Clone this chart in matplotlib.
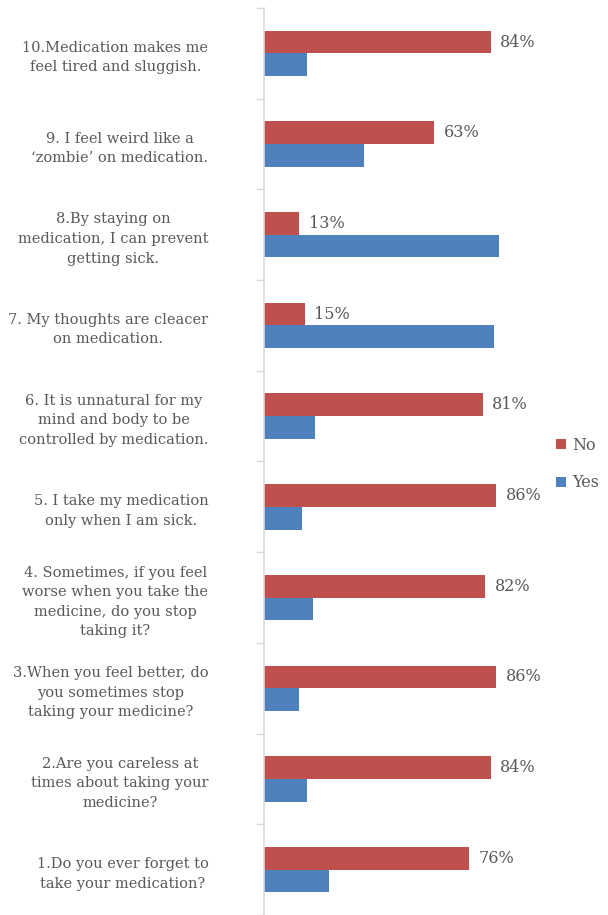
import matplotlib
matplotlib.use("Agg")
import matplotlib.pyplot as plt
import numpy as np

questions = [
    "1.Do you ever forget to\ntake your medication?",
    "2.Are you careless at\ntimes about taking your\nmedicine?",
    "3.When you feel better, do\nyou sometimes stop\ntaking your medicine?",
    "4. Sometimes, if you feel\nworse when you take the\nmedicine, do you stop\ntaking it?",
    "5. I take my medication\nonly when I am sick.",
    "6. It is unnatural for my\nmind and body to be\ncontrolled by medication.",
    "7. My thoughts are cleacer\non medication.",
    "8.By staying on\nmedication, I can prevent\ngetting sick.",
    "9. I feel weird like a\n\u2018zombie\u2019 on medication.",
    "10.Medication makes me\nfeel tired and sluggish.",
]
no_pct = [76, 84, 86, 82, 86, 81, 15, 13, 63, 84]
yes_pct = [24, 16, 13, 18, 14, 19, 85, 87, 37, 16]

red = "#C0504D"
blue = "#4F81BD"
txt = "#595959"
grid = "#D9D9D9"

plt.rcParams["font.family"] = ["DejaVu Serif"]

fig = plt.figure(figsize=(6.08, 9.15), dpi=100)
ax = fig.add_axes([264 / 608, 0.0, (570 - 264) / 608, 1 - 8 / 915])

y = np.arange(len(questions))
h = 0.25
ax.barh(y + h / 2, no_pct, height=h, color=red, label="No")
ax.barh(y - h / 2, yes_pct, height=h, color=blue, label="Yes")

for yi, v in zip(y, no_pct):
    ax.text(v + 3.5, yi + h / 2, f"{v}%", va="center", ha="left",
            fontsize=11.5, color=txt)

ax.set_xlim(0, 306 / 2.7)
ax.set_ylim(-0.5, len(questions) - 0.5)

ax.set_yticks(y)
ax.set_yticklabels(questions, fontsize=10.5, color=txt,
                   multialignment="center", linespacing=1.5)
ax.set_yticks(np.arange(-0.5, len(questions), 1), minor=True)
ax.tick_params(axis="y", which="major", length=0, pad=40)
ax.tick_params(axis="y", which="minor", length=6, color=grid, width=1)
ax.set_xticks([])

for s in ["top", "right", "bottom"]:
    ax.spines[s].set_visible(False)
ax.spines["left"].set_color(grid)
ax.spines["left"].set_linewidth(1.2)

handles, labels = ax.get_legend_handles_labels()
fig.legend(handles, labels, loc="center left", bbox_to_anchor=(542 / 608, 1 - 464 / 915),
           frameon=False, fontsize=11.5, labelcolor=txt, handlelength=0.6, handleheight=0.6,
           handletextpad=0.4, labelspacing=1.3)

fig.savefig("out.png", dpi=100)
